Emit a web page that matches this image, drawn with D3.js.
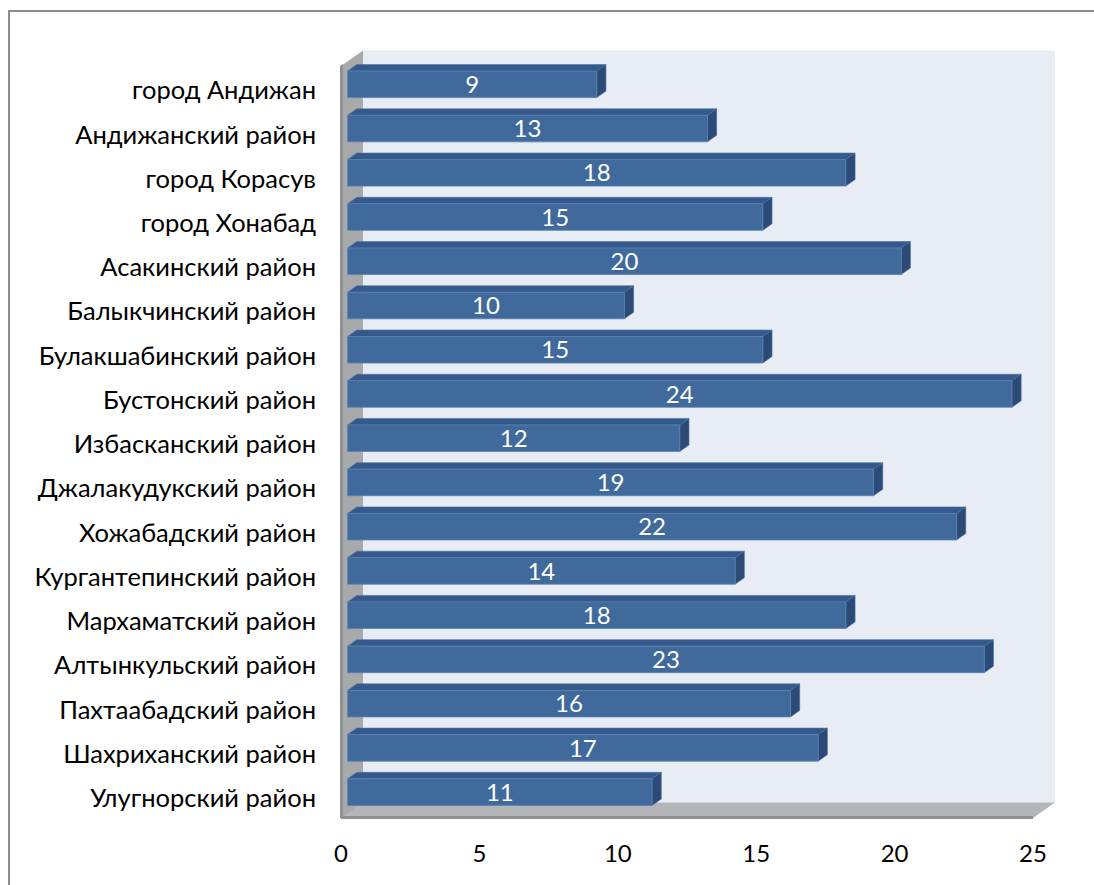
<!DOCTYPE html>
<html>
<head>
<meta charset="utf-8">
<script src="https://cdn.jsdelivr.net/npm/d3@7"></script>
<style>
  body { margin: 0; background: #fff; }
  svg { display: block; }
</style>
</head>
<body>
<div id="chart"></div>
<script>
// districts, top to bottom
const districts = ['город Андижан', 'Андижанский район', 'город Корасув', 'город Хонабад',
  'Асакинский район', 'Балыкчинский район', 'Булакшабинский район', 'Бустонский район',
  'Избасканский район', 'Джалакудукский район', 'Хожабадский район', 'Кургантепинский район',
  'Мархаматский район', 'Алтынкульский район', 'Пахтаабадский район', 'Шахриханский район',
  'Улугнорский район'];
const counts = [9, 13, 18, 15, 20, 10, 15, 24, 12, 19, 22, 14, 18, 23, 16, 17, 11];
const ticks = [0, 5, 10, 15, 20, 25];

const W = 1094, H = 885;
const font = 'Lato, "Open Sans", sans-serif';

// front plane of the 3d box, plus the depth shift
const x0 = 341, x1 = 1033, yTop = 66, yBot = 818;
const depthX = 22, depthY = -15.5;

const x = d3.scaleLinear().domain([0, 25]).range([x0, x1]);
const y = d3.scaleBand().domain(districts).range([yTop, yBot]);

// project a point at depth z (0 = front, 1 = back wall)
const P = (px, py, z) => [px + depthX * z, py + depthY * z];
const poly = pts => 'M' + pts.map(p => p.join(',')).join('L') + 'Z';

const svg = d3.select('#chart').append('svg')
  .attr('width', W).attr('height', H);

// outer frame
svg.append('path')
  .attr('d', `M9,${H}L9,11L${W},11`)
  .attr('fill', 'none').attr('stroke', '#8c8c8c').attr('stroke-width', 2);

// back wall
svg.append('path')
  .attr('d', poly([P(x0, yTop, 1), P(x1, yTop, 1), P(x1, yBot, 1), P(x0, yBot, 1)]))
  .attr('fill', '#e8ecf5');

// left wall (side slab)
svg.append('path')
  .attr('d', poly([P(x0, yTop, 0), P(x0, yTop, 1), P(x0, yBot, 1), P(x0, yBot, 0)]))
  .attr('fill', '#a8a9ab');
svg.append('path')
  .attr('d', poly([[x0 - 1, yTop], [x0 + 2, yTop - 2], [x0 + 2, yBot], [x0 - 1, yBot]]))
  .attr('fill', '#8f9092');

// floor
svg.append('path')
  .attr('d', poly([P(x0, yBot, 0), P(x0, yBot, 1), P(x1, yBot, 1), P(x1, yBot, 0)]))
  .attr('fill', '#b3b5b9');
svg.append('path')
  .attr('d', poly([[x0, yBot - 2], [x1, yBot - 2], [x1, yBot + 1], [x0, yBot + 1]]))
  .attr('fill', '#8f9092');
// corner shading where wall meets floor
svg.append('path')
  .attr('d', poly([P(x0, yBot, 0), P(x0, yBot, 1), [x0 + 2, yBot - 2]]))
  .attr('fill', '#9a9b9d');

// bars
const z0 = 0.3, z1 = 0.72;
const bh = y.bandwidth() * 0.6, bpad = y.bandwidth() * 0.22;

const bars = svg.append('g').selectAll('g')
  .data(districts.map((d, i) => ({ name: d, v: counts[i] })))
  .join('g');

// top face
bars.append('path')
  .attr('d', d => {
    const t = y(d.name) + bpad;
    return poly([P(x(0), t, z0), P(x(0), t, z1), P(x(d.v), t, z1), P(x(d.v), t, z0)]);
  })
  .attr('fill', '#35598a').attr('stroke', '#4a72a6').attr('stroke-width', 0.6);

// end face
bars.append('path')
  .attr('d', d => {
    const t = y(d.name) + bpad;
    return poly([P(x(d.v), t, z0), P(x(d.v), t, z1), P(x(d.v), t + bh, z1), P(x(d.v), t + bh, z0)]);
  })
  .attr('fill', '#2b4b76').attr('stroke', '#4a72a6').attr('stroke-width', 0.6);

// front face
bars.append('path')
  .attr('d', d => {
    const t = y(d.name) + bpad;
    return poly([P(x(0), t, z0), P(x(d.v), t, z0), P(x(d.v), t + bh, z0), P(x(0), t + bh, z0)]);
  })
  .attr('fill', '#40699c').attr('stroke', '#5a82b4').attr('stroke-width', 0.8);

// value labels
bars.append('text')
  .attr('x', d => (P(x(0), 0, z0)[0] + P(x(d.v), 0, z0)[0]) / 2)
  .attr('y', d => P(0, y(d.name) + bpad + bh / 2, z0)[1])
  .attr('dy', '0.36em')
  .attr('text-anchor', 'middle')
  .attr('fill', '#fff')
  .style('font-family', font).style('font-size', '24px')
  .text(d => d.v);

// category labels
svg.append('g').selectAll('text')
  .data(districts)
  .join('text')
  .attr('x', 316)
  .attr('y', d => y(d) + y.bandwidth() / 2 + 2)
  .attr('dy', '0.36em')
  .attr('text-anchor', 'end')
  .attr('fill', '#000')
  .style('font-family', font).style('font-size', '25.5px')
  .text(d => d);

// x axis labels
svg.append('g').selectAll('text')
  .data(ticks)
  .join('text')
  .attr('x', d => x(d))
  .attr('y', 853)
  .attr('dy', '0.36em')
  .attr('text-anchor', 'middle')
  .attr('fill', '#000')
  .style('font-family', font).style('font-size', '24px')
  .text(d => d);
</script>
</body>
</html>
